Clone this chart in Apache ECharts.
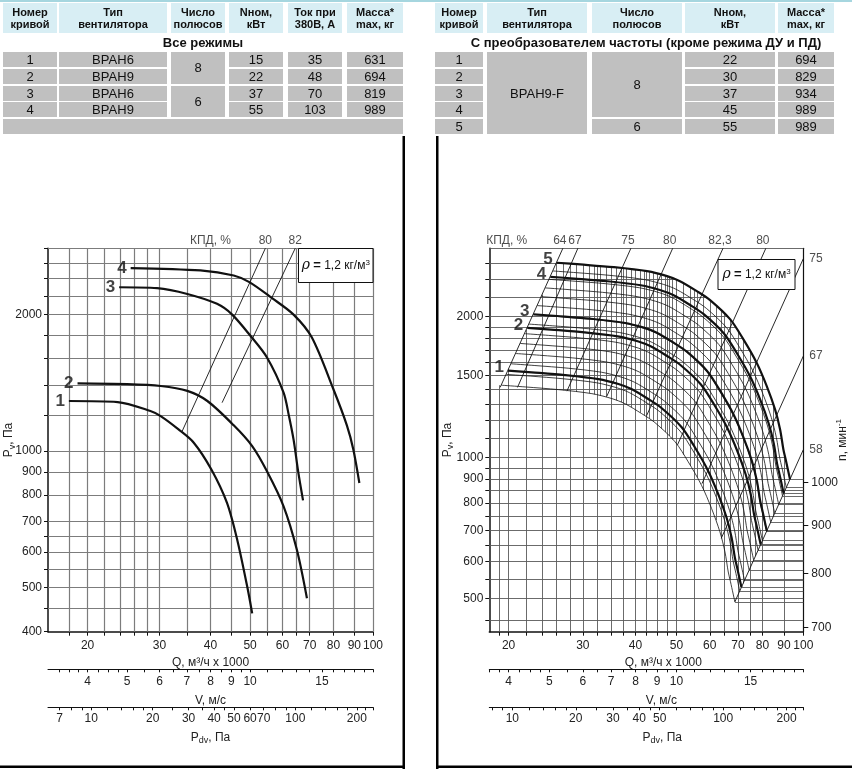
<!DOCTYPE html>
<html><head><meta charset="utf-8">
<script src="https://cdn.jsdelivr.net/npm/echarts@6/dist/echarts.min.js"></script>
<style>
html,body{margin:0;padding:0;background:#fff;}
#wrap{position:relative;width:852px;height:769px;overflow:hidden;font-family:"Liberation Sans",Arial,sans-serif;}
#chart{position:absolute;left:0;top:0;width:852px;height:769px;}
#tables{position:absolute;left:0;top:0;width:852px;height:140px;z-index:5;}
.cell{position:absolute;display:flex;align-items:center;justify-content:center;text-align:center;box-sizing:border-box;color:#111;white-space:nowrap;}
.hdr{background:#d8eef4;font-weight:bold;font-size:11px;line-height:12px;}
.dat{background:#c0c0c0;font-size:13px;}
.ttl{font-weight:bold;font-size:13px;}
.bar{position:absolute;left:0;top:0;width:852px;height:2px;background:#a6d6df;}
</style></head>
<body><div id="wrap"><div id="chart"></div><div id="tables"><div class="bar"></div></div></div>
<script>
// ---------------- TABLE DATA ----------------
const leftHeaders = ['Номер\nкривой','Тип\nвентилятора','Число\nполюсов','Nном,\nкВт','Ток при\n380В, А','Масса*\nmax, кг'];
const leftTitle = 'Все режимы';
const leftCurveNo = ['1','2','3','4'];
const leftType = ['ВРАН6','ВРАН9','ВРАН6','ВРАН9'];
const leftPoles = [['8',2],['6',2]];
const leftPower = [15,22,37,55];
const leftCurrent = [35,48,70,103];
const leftMass = [631,694,819,989];

const rightHeaders = ['Номер\nкривой','Тип\nвентилятора','Число\nполюсов','Nном,\nкВт','Масса*\nmax, кг'];
const rightTitle = 'С преобразователем частоты (кроме режима ДУ и ПД)';
const rightCurveNo = ['1','2','3','4','5'];
const rightType = 'ВРАН9-F';
const rightPoles = [['8',4],['6',1]];
const rightPower = [22,30,37,45,55];
const rightMass = [694,829,934,989,989];

// ---------------- CHART DATA ----------------
// Left chart: Q (тыс. м³/ч) vs Pv (Па)
const L_curve1 = [[18.0,1290],[23.7,1283],[28.5,1226],[30.2,1195],[33.4,1117],[36.4,1044],[40.2,911],[43.9,769],[46.5,638],[49.2,503],[50.6,439]];
const L_curve2 = [[18.9,1410],[25.0,1405],[30.2,1392],[35.1,1358],[39.3,1290],[45.6,1140],[50.6,1026],[55.0,903],[60.4,756],[65.1,606],[68.9,474]];
const L_curve3 = [[23.9,2298],[29.6,2287],[35.1,2221],[41.5,2112],[45.2,2000],[50.1,1796],[55.0,1609],[60.4,1346],[62.2,1200],[63.9,1060],[65.6,900],[67.4,779]];
const L_curve4 = [[25.5,2533],[37.8,2502],[45.6,2439],[49.8,2358],[56.6,2174],[63.9,2000],[70.8,1782],[80.0,1369],[86.3,1140],[89.5,1009],[92.6,851]];
const L_curveNames = ['1','2','3','4'];
const L_eff80 = [[34.1,1107],[54.5,2800]];
const L_eff82 = [[42.7,1279],[64.5,2800]];
const L_qGrid = [18,20,22,24,26,28,30,35,40,45,50,55,60,65,70,80,90,100];
const L_pGrid = [450,500,550,600,650,700,800,900,1000,1200,1400,1600,1800,2000,2200,2400,2600,2800];
const L_pLabels = [400,500,600,700,800,900,1000,2000];
const L_pdvLabels = [7,10,20,30,40,50,60,70,100,200];

// shared tick lists
const Q_LABELS = [20,30,40,50,60,70,80,90,100];
const V_LABELS = [4,5,6,7,8,9,10,15];
const V_TICKS = [3.4,3.6,3.8,4,4.25,4.5,4.75,5,5.5,6,6.5,7,7.5,8,8.5,9,9.5,10,11,12,13,14,15,16,17,18,19,20];
const PDV_TICKS = [7,8,9,10,12,14,16,18,20,25,30,35,40,45,50,60,70,80,90,100,120,140,160,180,200,220,240];
const V_PER_Q = 0.2;      // V, м/с per 1000 м³/ч (read: Q 20 -> V 4)
const PDV_PER_V2 = 0.6;   // Pdv = 0.6·V² (ρ = 1,2)

// Right chart: curve 5 (n = 1000 мин⁻¹) and speed family
const R_curve5 = [[26.0,2608],[29.6,2586],[35.5,2552],[42.6,2502],[47.5,2442],[51.0,2382],[55.9,2268],[60.1,2170],[67.1,1974],[72.1,1789],[77.5,1595],[81.9,1422],[85.7,1268],[88.1,1149],[89.7,1041],[90.8,992],[93.0,899]];
const R_boldRpm = [767,852,881,966,1000];
const R_boldNames = ['1','2','3','4','5'];
const R_thinRpm = [740,760,780,800,820,840,860,880,900,920,940,960,980];
const R_eff64 = [[19.1,1413],[26.9,2800]];
const R_eff67 = [[21.0,1413],[29.2,2800]];
const R_eff75a = [[27.5,1387],[39.0,2800]];
const R_eff80a = [[34.2,1353],[49.0,2800]];
const R_eff823 = [[42.5,1230],[64.5,2800]];
const R_eff80b = [[50.3,1065],[81.5,2800]];
const R_eff75b = [[57.5,880],[100,2660]];
const R_eff67b = [[63.9,673],[100,1648]];
const R_eff58 = [[68.8,492],[100,1040]];
const R_topEff = [['64',R_eff64],['67',R_eff67],['75',R_eff75a],['80',R_eff80a],['82,3',R_eff823],['80',R_eff80b]];
const R_sideEff = [['75',R_eff75b],['67',R_eff67b],['58',R_eff58]];
const R_qGrid = [19,20,22,24,26,28,30,32.5,35,37.5,40,42.5,45,47.5,50,55,60,65,70,75,80,90];
const R_qBand = [27,29,31,32,33,34,36,37,38,39,41,42,43,44,46,47,48,49,52,54,56,58,62,64,67,72,77,85];
const R_pGrid = [450,500,550,600,650,700,750,800,850,900,950,1000,1100,1200,1300,1400,1500,1600,1700,1800,1900,2000,2200,2400,2600];
const R_pLabels = [500,600,700,800,900,1000,1500,2000];
const R_pdvLabels = [10,20,30,40,50,100,200];
const R_nLabels = [700,800,900,1000];
const R_N_CAL = [1000,884.6];   // n = 1000 мин⁻¹ mark sits at Pv = 884.6 Па

// axis ranges
const L_Q_MIN = 16, R_Q_MIN = 18, Q_MAX = 100, L_P_MIN = 400, R_P_MIN = 425, P_MAX = 2800;

// ---------------- TABLES ----------------
const LT_COLS = [[3,57],[59,167],[171,225],[229,283],[288,342],[347,403]];
const RT_COLS = [[435,483],[487,587],[592,682],[685,775],[778,834]];
const HDR_Y = [3,33], TTL_Y = [34,51];
const ROW_Y = [[52,67],[68.5,83.5],[85.5,100.5],[102,117],[119,134]];
const T = document.getElementById('tables');
function cell(x0,x1,y0,y1,text,cls){
  const d=document.createElement('div'); d.className='cell '+cls;
  d.style.left=x0+'px'; d.style.top=y0+'px'; d.style.width=(x1-x0)+'px'; d.style.height=(y1-y0)+'px';
  String(text).split('\n').forEach((s,i)=>{ if(i) d.appendChild(document.createElement('br')); d.appendChild(document.createTextNode(s)); });
  d.style.flexDirection='column';
  T.appendChild(d);
}
leftHeaders.forEach((h,i)=>cell(LT_COLS[i][0],LT_COLS[i][1],HDR_Y[0],HDR_Y[1],h,'hdr'));
cell(3,403,TTL_Y[0],TTL_Y[1],leftTitle,'ttl');
leftCurveNo.forEach((v,r)=>{
  cell(LT_COLS[0][0],LT_COLS[0][1],ROW_Y[r][0],ROW_Y[r][1],v,'dat');
  cell(LT_COLS[1][0],LT_COLS[1][1],ROW_Y[r][0],ROW_Y[r][1],leftType[r],'dat');
  cell(LT_COLS[3][0],LT_COLS[3][1],ROW_Y[r][0],ROW_Y[r][1],leftPower[r],'dat');
  cell(LT_COLS[4][0],LT_COLS[4][1],ROW_Y[r][0],ROW_Y[r][1],leftCurrent[r],'dat');
  cell(LT_COLS[5][0],LT_COLS[5][1],ROW_Y[r][0],ROW_Y[r][1],leftMass[r],'dat');
});
(function(){ let r=0; leftPoles.forEach(([v,span])=>{ cell(LT_COLS[2][0],LT_COLS[2][1],ROW_Y[r][0],ROW_Y[r+span-1][1],v,'dat'); r+=span; }); })();
cell(3,403,ROW_Y[4][0],ROW_Y[4][1],'','dat');

rightHeaders.forEach((h,i)=>cell(RT_COLS[i][0],RT_COLS[i][1],HDR_Y[0],HDR_Y[1],h,'hdr'));
cell(440,852,TTL_Y[0],TTL_Y[1],rightTitle,'ttl');
rightCurveNo.forEach((v,r)=>{
  cell(RT_COLS[0][0],RT_COLS[0][1],ROW_Y[r][0],ROW_Y[r][1],v,'dat');
  cell(RT_COLS[3][0],RT_COLS[3][1],ROW_Y[r][0],ROW_Y[r][1],rightPower[r],'dat');
  cell(RT_COLS[4][0],RT_COLS[4][1],ROW_Y[r][0],ROW_Y[r][1],rightMass[r],'dat');
});
cell(RT_COLS[1][0],RT_COLS[1][1],ROW_Y[0][0],ROW_Y[4][1],rightType,'dat');
(function(){ let r=0; rightPoles.forEach(([v,span])=>{ cell(RT_COLS[2][0],RT_COLS[2][1],ROW_Y[r][0],ROW_Y[r+span-1][1],v,'dat'); r+=span; }); })();

// ---------------- HELPERS ----------------
const lg = v => Math.log10(v);
const toLog = pts => pts.map(([q,p]) => [lg(q), lg(p)]);
const FF = '"Liberation Sans", Arial, sans-serif';
const TXT = '#222';
function scaleCurve(base, n){ const s=n/1000; return base.map(([q,p])=>[q*s, p*s*s]); }
function pAtQ(pts,q){
  for(let i=0;i<pts.length-1;i++){ const [q0,p0]=pts[i],[q1,p1]=pts[i+1];
    if(q>=q0 && q<=q1){ const t=(lg(q)-lg(q0))/(lg(q1)-lg(q0)); return Math.pow(10, lg(p0)+t*(lg(p1)-lg(p0))); } }
  return null;
}
function qAtP(pts,p){
  for(let i=0;i<pts.length-1;i++){ const [q0,p0]=pts[i],[q1,p1]=pts[i+1];
    const lo=Math.min(p0,p1), hi=Math.max(p0,p1);
    if(p>=lo && p<=hi){ const t=(lg(p)-lg(p0))/(lg(p1)-lg(p0)); return Math.pow(10, lg(q0)+t*(lg(q1)-lg(q0))); } }
  return null;
}
const seg = (q0,p0,q1,p1) => ({coords:[[lg(q0),lg(p0)],[lg(q1),lg(p1)]]});
const fmt = v => String(Math.round(Math.pow(10,v)));

const richBase = {fontSize:12, lineHeight:16, fontFamily:FF, color:TXT};
const richSub = {fontSize:9, lineHeight:9, verticalAlign:'bottom', fontFamily:FF, color:TXT};
const richSup = {fontSize:8, lineHeight:8, verticalAlign:'top', fontFamily:FF, color:TXT};
const nameStyle = {fontSize:12, fontFamily:FF, color:TXT, lineHeight:16, rich:{a:richBase, s:richSub, u:richSup}};

function axis(o){
  return {
    type:'value', gridIndex:o.grid, min:lg(o.min), max:lg(o.max), position:o.pos, offset:o.offset||0,
    name:o.name, nameLocation:'middle', nameGap:o.nameGap, nameMoveOverlap:false,
    nameTextStyle: Object.assign({}, nameStyle, o.namePad ? {padding:o.namePad} : {}),
    axisLine:{show:true, onZero:false, lineStyle:{color:'#111', width:o.lw||1}},
    axisTick:{show:true, inside:false, length:o.tickLen||3, customValues:o.ticks.map(lg), lineStyle:{color:'#111', width:1}},
    axisLabel:{show:true, customValues:o.labels.map(lg), margin:o.margin, formatter:fmt, fontSize:12, color:TXT, fontFamily:FF, hideOverlap:false},
    splitLine:{show:false}, splitArea:{show:false}
  };
}

// ---------------- LEFT GEOMETRY ----------------
const L_gridSegs = [
  ...L_qGrid.map(q => seg(q,L_P_MIN,q,P_MAX)),
  ...L_pGrid.map(p => seg(L_Q_MIN,p,Q_MAX,p))
];
const L_curves = [L_curve1,L_curve2,L_curve3,L_curve4];

// ---------------- RIGHT GEOMETRY ----------------
const R_all = R_thinRpm.concat(R_boldRpm).sort((a,b)=>a-b);
const R_lowest = scaleCurve(R_curve5, R_all[0]);
const R_end5 = R_curve5[R_curve5.length-1];
function topAt(q){
  if(q >= R_curve5[0][0]) return pAtQ(R_curve5,q);
  if(q >= R_lowest[0][0]) return pAtQ(R_eff64,q) || R_curve5[0][1];
  return R_lowest[0][1];
}
function bandLow(q){
  if(q < R_lowest[0][0]) return null;
  if(q <= R_lowest[R_lowest.length-1][0]) return pAtQ(R_lowest,q);
  return pAtQ(R_eff58,q);
}
function rightEnd(p){
  if(p < R_end5[1]) return Q_MAX;
  if(p > R_curve5[0][1]) return qAtP(R_eff64,p);
  return qAtP(R_curve5,p);
}
const R_gridSegs = [];
R_qGrid.forEach(q => { const t=topAt(q); if(t) R_gridSegs.push(seg(q,R_P_MIN,q,t)); });
R_qBand.forEach(q => { const t=topAt(q), b=bandLow(q); if(t && b && t>b) R_gridSegs.push(seg(q,b,q,t)); });
R_pGrid.forEach(p => { const e=rightEnd(p); if(e) R_gridSegs.push(seg(R_Q_MIN,p,e,p)); });
R_all.forEach(n => { const c=scaleCurve(R_curve5,n); const e=c[c.length-1]; R_gridSegs.push(seg(e[0],e[1],Q_MAX,e[1])); });
R_gridSegs.push(seg(R_Q_MIN,P_MAX,Q_MAX,P_MAX));

const lgC = lg(R_N_CAL[1]) - 2*lg(R_N_CAL[0]);
const nMin = Math.pow(10,(lg(R_P_MIN)-lgC)/2), nMax = Math.pow(10,(lg(P_MAX)-lgC)/2);

// ---------------- OPTION ----------------
const GL = {left:46.7, top:248.3, width:326.3, height:383.4};
const GR = {left:489.3, top:248.3, width:314, height:383.4};
const pdv = q => PDV_PER_V2*Math.pow(q*V_PER_Q,2);

const xAxes = [
  axis({grid:0,pos:'bottom',min:L_Q_MIN,max:Q_MAX,ticks:L_qGrid,labels:Q_LABELS,margin:8,lw:1.5,tickLen:4,name:'Q, м³/ч x 1000',nameGap:23}),
  axis({grid:0,pos:'bottom',offset:37.6,min:L_Q_MIN*V_PER_Q,max:Q_MAX*V_PER_Q,ticks:V_TICKS,labels:V_LABELS,margin:6,name:'V, м/с',nameGap:23}),
  axis({grid:0,pos:'bottom',offset:75.6,min:pdv(L_Q_MIN),max:pdv(Q_MAX),ticks:PDV_TICKS,labels:L_pdvLabels,margin:5,name:'{a|P}{s|dv}{a|, Па}',nameGap:22}),
  axis({grid:1,pos:'bottom',min:R_Q_MIN,max:Q_MAX,ticks:R_qGrid.concat([100]),labels:Q_LABELS,margin:8,lw:1.5,tickLen:4,name:'Q, м³/ч x 1000',nameGap:23,namePad:[0,0,0,34]}),
  axis({grid:1,pos:'bottom',offset:37.6,min:R_Q_MIN*V_PER_Q,max:Q_MAX*V_PER_Q,ticks:V_TICKS,labels:V_LABELS,margin:6,name:'V, м/с',nameGap:23,namePad:[0,0,0,30]}),
  axis({grid:1,pos:'bottom',offset:75.6,min:pdv(R_Q_MIN),max:pdv(Q_MAX),ticks:PDV_TICKS,labels:R_pdvLabels,margin:5,name:'{a|P}{s|dv}{a|, Па}',nameGap:22,namePad:[0,0,0,32]})
];
const yAxes = [
  axis({grid:0,pos:'left',min:L_P_MIN,max:P_MAX,ticks:[400].concat(L_pGrid),labels:L_pLabels,margin:6,lw:1.5,tickLen:4,name:'{a|P}{s|v}{a|, Па}',nameGap:31}),
  axis({grid:1,pos:'left',min:R_P_MIN,max:P_MAX,ticks:R_pGrid,labels:R_pLabels,margin:6,lw:1.5,tickLen:4,name:'{a|P}{s|v}{a|, Па}',nameGap:34}),
  axis({grid:1,pos:'right',min:nMin,max:nMax,ticks:R_nLabels,labels:R_nLabels,margin:8,lw:1.2,tickLen:5,name:'{a|n, мин}{u|-1}',nameGap:31})
];

const lineBase = {type:'line', symbol:'none', silent:true, animation:false};
const series = [];
// left
series.push({type:'lines', coordinateSystem:'cartesian2d', xAxisIndex:0, yAxisIndex:0, data:L_gridSegs, silent:true, z:1, lineStyle:{color:'#7c7c7c', width:1.2, opacity:1}, effect:{show:false}});
series.push({type:'lines', coordinateSystem:'cartesian2d', xAxisIndex:0, yAxisIndex:0, data:[{coords:toLog(L_eff80)},{coords:toLog(L_eff82)}], silent:true, z:2, lineStyle:{color:'#111', width:0.9, opacity:1}, effect:{show:false}});
L_curves.forEach((c,i)=>series.push(Object.assign({}, lineBase, {xAxisIndex:0, yAxisIndex:0, data:toLog(c), smooth:0.3, z:4, lineStyle:{color:'#111', width:2.2}})));
const labelItem = (q,p,txt,pos,extra) => ({value:[lg(q),lg(p)], label:Object.assign({show:true, position:pos, formatter:txt, fontSize:12, color:TXT, fontFamily:FF, distance:2}, extra||{})});
const bold = {fontSize:17, fontWeight:'bold', color:'#111', distance:4};
series.push({type:'scatter', xAxisIndex:0, yAxisIndex:0, symbolSize:0, silent:true, clip:false, z:6, data:[
  ...L_curves.map((c,i)=>labelItem(c[0][0],c[0][1],L_curveNames[i],'left',bold)),
  labelItem(40,P_MAX,'КПД, %','top'),
  labelItem(L_eff80[1][0],L_eff80[1][1],'80','top'),
  labelItem(L_eff82[1][0],L_eff82[1][1],'82','top')
]});
// right
series.push({type:'lines', coordinateSystem:'cartesian2d', xAxisIndex:3, yAxisIndex:1, data:R_gridSegs, silent:true, z:1, lineStyle:{color:'#5a5a5a', width:0.9, opacity:1}, effect:{show:false}});
series.push({type:'lines', coordinateSystem:'cartesian2d', xAxisIndex:3, yAxisIndex:1, data:R_topEff.concat(R_sideEff).map(([,pts])=>({coords:toLog(pts)})), silent:true, z:2, lineStyle:{color:'#111', width:0.9, opacity:1}, effect:{show:false}});
R_thinRpm.forEach(n=>series.push(Object.assign({}, lineBase, {xAxisIndex:3, yAxisIndex:1, data:toLog(scaleCurve(R_curve5,n)), smooth:0.3, z:3, lineStyle:{color:'#111', width:0.8}})));
R_boldRpm.forEach(n=>series.push(Object.assign({}, lineBase, {xAxisIndex:3, yAxisIndex:1, data:toLog(scaleCurve(R_curve5,n)), smooth:0.3, z:4, lineStyle:{color:'#111', width:2.2}})));
series.push({type:'scatter', xAxisIndex:3, yAxisIndex:1, symbolSize:0, silent:true, clip:false, z:6, data:[
  ...R_boldRpm.map((n,i)=>{ const s=scaleCurve(R_curve5,n)[0]; return labelItem(s[0],s[1],R_boldNames[i],'left',Object.assign({offset:[0,-3]},bold)); }),
  labelItem(19.8,P_MAX,'КПД, %','top'),
  ...R_topEff.map(([t,pts])=>labelItem(pts[1][0],pts[1][1],t,'top',{offset:[-3,0]})),
  ...R_sideEff.map(([t,pts])=>labelItem(pts[1][0],pts[1][1],t,'right',{distance:6}))
]});

const rhoRich = {i:{fontSize:14, fontStyle:'italic', fontFamily:'"DejaVu Serif", serif', fill:'#111'}, b:{fontSize:13, fontWeight:'bold', fontFamily:FF, fill:'#111'}, n:{fontSize:12, fontFamily:FF, fill:'#111'}, u:{fontSize:8, fontFamily:FF, fill:'#111', verticalAlign:'top', lineHeight:8}};
function rhoBox(x,y,w,h){
  return {type:'group', z:100, children:[
    {type:'rect', shape:{x:x,y:y,width:w,height:h}, style:{fill:'#fff', stroke:'#111', lineWidth:1}, z:100},
    {type:'text', x:x+w/2, y:y+h/2, z:101, style:{text:'{i|ρ} {b|=} {n|1,2 кг/м}{u|3}', rich:rhoRich, align:'center', verticalAlign:'middle', fontSize:12, fontFamily:FF, fill:'#111'}}
  ]};
}
const graphic = [
  {type:'rect', z:100, shape:{x:402.5,y:136,width:2.5,height:633}, style:{fill:'#000'}},
  {type:'rect', z:100, shape:{x:0,y:765.5,width:405,height:2.5}, style:{fill:'#000'}},
  {type:'rect', z:100, shape:{x:436,y:136,width:2.5,height:633}, style:{fill:'#000'}},
  {type:'rect', z:100, shape:{x:436,y:765.5,width:416,height:2.5}, style:{fill:'#000'}},
  rhoBox(298.5,248.5,74.5,34),
  rhoBox(718,259.5,77,30)
];

const chart = echarts.init(document.getElementById('chart'), null, {renderer:'canvas'});
chart.setOption({
  animation:false, backgroundColor:'#fff',
  grid:[Object.assign({containLabel:false},GL), Object.assign({containLabel:false},GR)],
  xAxis:xAxes, yAxis:yAxes, series:series, graphic:graphic
});
</script></body></html>
